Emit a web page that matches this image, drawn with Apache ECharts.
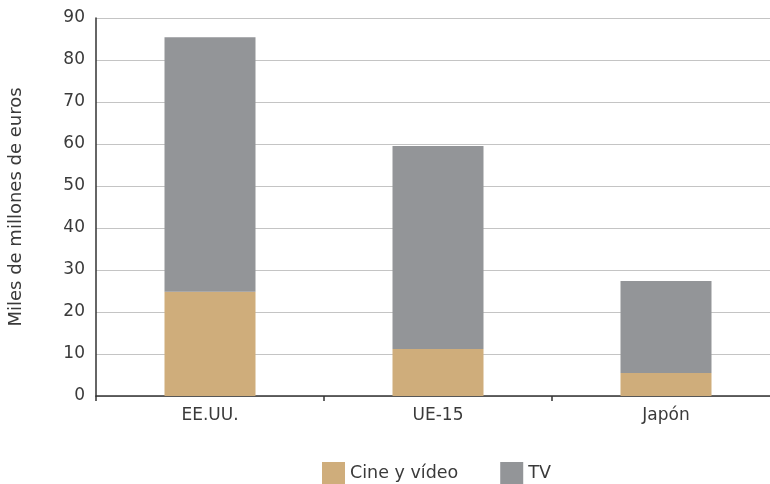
<!DOCTYPE html>
<html>
<head>
<meta charset="utf-8">
<script src="https://cdn.jsdelivr.net/npm/echarts@6/dist/echarts.min.js"></script>
<style>
html,body{margin:0;padding:0;background:#fff;}
#chart{width:770px;height:484px;}
</style>
</head>
<body>
<div id="chart"></div>
<script>
var categories = ['EE.UU.', 'UE-15', 'Japón'];
var cineVideo = [24.8, 11.2, 5.5];
var tv = [60.6, 48.3, 21.9];
var yTicks = {min: 0, max: 90, interval: 10};
var seriesNames = ['Cine y vídeo', 'TV'];
var colors = ['#cfad7b', '#939598'];

var chart = echarts.init(document.getElementById('chart'), null, {renderer: 'canvas'});
var font = 'DejaVu Sans';
chart.setOption({
  animation: false,
  textStyle: {fontFamily: font},
  grid: {left: 96, width: 684, top: 18, bottom: 88, outerBoundsMode: 'none', containLabel: false},
  legend: {
    left: 317, top: 457, itemWidth: 23, itemHeight: 22, itemGap: 42,
    icon: 'rect',
    textStyle: {fontFamily: font, fontSize: 17.5, color: '#3a3a3a'},
    data: seriesNames
  },
  xAxis: {
    type: 'category',
    data: categories,
    axisLine: {lineStyle: {color: '#333', width: 1.5}},
    axisTick: {show: true, length: 5, alignWithLabel: false, lineStyle: {color: '#333', width: 1.5}},
    axisLabel: {fontFamily: font, fontSize: 17, color: '#3a3a3a', margin: 11},
    splitLine: {show: false}
  },
  yAxis: {
    type: 'value',
    min: yTicks.min, max: yTicks.max, interval: yTicks.interval,
    name: 'Miles de millones de euros',
    nameLocation: 'middle',
    nameGap: 71,
    nameTextStyle: {fontFamily: font, fontSize: 18, color: '#3a3a3a'},
    axisLine: {show: true, lineStyle: {color: '#333', width: 1.5}},
    axisTick: {show: false},
    axisLabel: {fontFamily: font, fontSize: 17, color: '#3a3a3a', margin: 11},
    splitLine: {lineStyle: {color: '#c4c4c4', width: 1.2}}
  },
  series: [
    {name: seriesNames[0], type: 'bar', stack: 'total', data: cineVideo, barWidth: 91,
     itemStyle: {color: colors[0]}},
    {name: seriesNames[1], type: 'bar', stack: 'total', data: tv, barWidth: 91,
     itemStyle: {color: colors[1]}}
  ]
});
</script>
</body>
</html>
